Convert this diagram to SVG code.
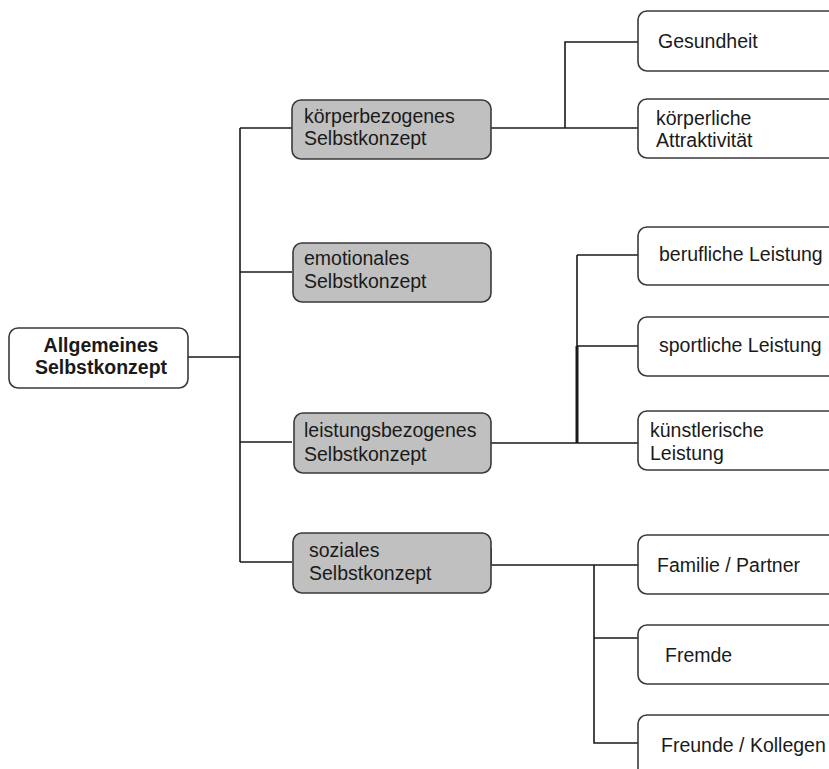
<svg xmlns="http://www.w3.org/2000/svg" width="829" height="769" viewBox="0 0 829 769">
<style>
.box{fill:#ffffff;stroke:#3a3a3a;stroke-width:1.6}
.mid{fill:#c0c0c0;stroke:#3a3a3a;stroke-width:1.6}
text{font-family:"Liberation Sans",Arial,sans-serif;font-size:19.5px;fill:#1a1a1a}
.b{font-weight:bold;text-anchor:middle}
.ln{fill:none;stroke:#1a1a1a;stroke-width:1.6}
</style>
<rect width="829" height="769" fill="#ffffff"/>
<g id="connectors">
<path class="ln" d="M188,357 H240 M240,128 V562 M240,128 H292 M240,272 H292 M240,442 H292 M240,562 H292"/>
<path class="ln" d="M491,128 H638 M565,128 V42 H638"/>
<path class="ln" d="M491,443 H638 M577,255 V443 M577,255 H638 M577,346 H638"/>
<path class="ln" d="M577,346 V443" style="stroke-width:3"/>
<path class="ln" d="M491,548 V565 H638 M594,565 V743 H638 M594,638 H638"/>
</g>
<g id="root"><rect class="box" x="9" y="328" width="179" height="60" rx="9"/><text class="b" x="101" y="352">Allgemeines</text><text class="b" x="101" y="374">Selbstkonzept</text></g>
<g id="koerper"><rect class="mid" x="292" y="100" width="199" height="59" rx="9"/><text x="304" y="123">körperbezogenes</text><text x="304" y="145">Selbstkonzept</text></g>
<g id="emotional"><rect class="mid" x="293" y="243" width="198" height="59" rx="9"/><text x="304" y="265">emotionales</text><text x="304" y="288">Selbstkonzept</text></g>
<g id="leistung"><rect class="mid" x="294" y="413" width="197" height="60" rx="9"/><text x="304" y="437">leistungsbezogenes</text><text x="304" y="461">Selbstkonzept</text></g>
<g id="sozial"><rect class="mid" x="293" y="533" width="198" height="60" rx="9"/><text x="309" y="557">soziales</text><text x="309" y="580">Selbstkonzept</text></g>
<g id="gesundheit"><rect class="box" x="638" y="11" width="230" height="60" rx="9"/><text x="658" y="48">Gesundheit</text></g>
<g id="attraktiv"><rect class="box" x="638" y="99" width="230" height="59" rx="9"/><text x="656" y="125">körperliche</text><text x="656" y="147">Attraktivität</text></g>
<g id="beruf"><rect class="box" x="638" y="227" width="230" height="58" rx="9"/><text x="659" y="261">berufliche Leistung</text></g>
<g id="sport"><rect class="box" x="638" y="317" width="230" height="59" rx="9"/><text x="659" y="352">sportliche Leistung</text></g>
<g id="kunst"><rect class="box" x="638" y="411" width="230" height="59" rx="9"/><text x="650" y="437">künstlerische</text><text x="650" y="460">Leistung</text></g>
<g id="familie"><rect class="box" x="638" y="535" width="230" height="59" rx="9"/><text x="657" y="572">Familie / Partner</text></g>
<g id="fremde"><rect class="box" x="638" y="625" width="230" height="59" rx="9"/><text x="665" y="662">Fremde</text></g>
<g id="freunde"><rect class="box" x="638" y="715" width="230" height="80" rx="9"/><text x="661" y="752">Freunde / Kollegen</text></g>
</svg>
